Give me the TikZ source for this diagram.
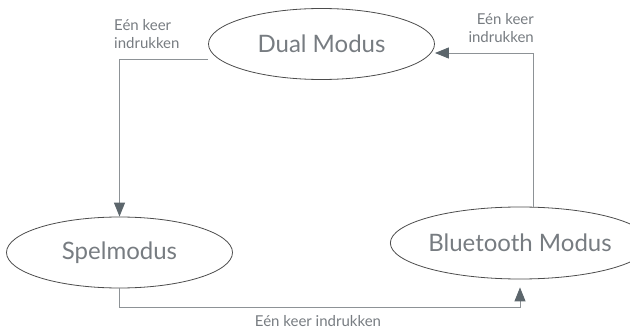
\documentclass[tikz,border=0pt]{standalone}
\usepackage{fontspec}
\setmainfont{Lato}
\usepackage{tikz}
\usetikzlibrary{shapes.geometric,arrows.meta}

\definecolor{txtgray}{HTML}{777C81}
\definecolor{linegray}{HTML}{8D9296}
\definecolor{tipgray}{HTML}{5C666C}

\tikzset{
  mode/.style={ellipse, draw=black!70, line width=0.8pt, inner sep=0pt,
    minimum width=226pt, minimum height=71pt, text=txtgray, font=\fontsize{24}{28}\selectfont},
  conn/.style={draw=linegray, line width=0.9pt,
    -{Triangle[length=14pt,width=11pt,color=tipgray]}},
  press/.style={text=txtgray, inner sep=0pt, font=\fontsize{15}{18}\selectfont}
}

\begin{document}
\begin{tikzpicture}[x=1pt,y=-1pt]
\useasboundingbox (0,0) rectangle (630,329);

\node[mode] (dual) at (321.5,44) {Dual Modus};
\node[mode] (spel) at (119.5,252.5) {Spelmodus};
\node[mode, minimum width=220pt, minimum height=72pt] (bt) at (520,243) {Bluetooth Modus};

\draw[conn] ([yshift=-15pt]dual.west) -| (spel.north);
\draw[conn] ([xshift=13pt]bt.north) |- ([yshift=-9pt]dual.east);
\draw[conn] (spel.south) -- ++(0,19) -| ([yshift=-8pt]bt.south);

\node[press, align=left, anchor=west] (lab1) at (114,34) {Eén keer\\indrukken};
\node[press, align=right, anchor=east] (lab2) at (534,28) {Eén keer\\indrukken};
\node[press] (lab3) at (318,321) {Eén keer indrukken};
\end{tikzpicture}
\end{document}
